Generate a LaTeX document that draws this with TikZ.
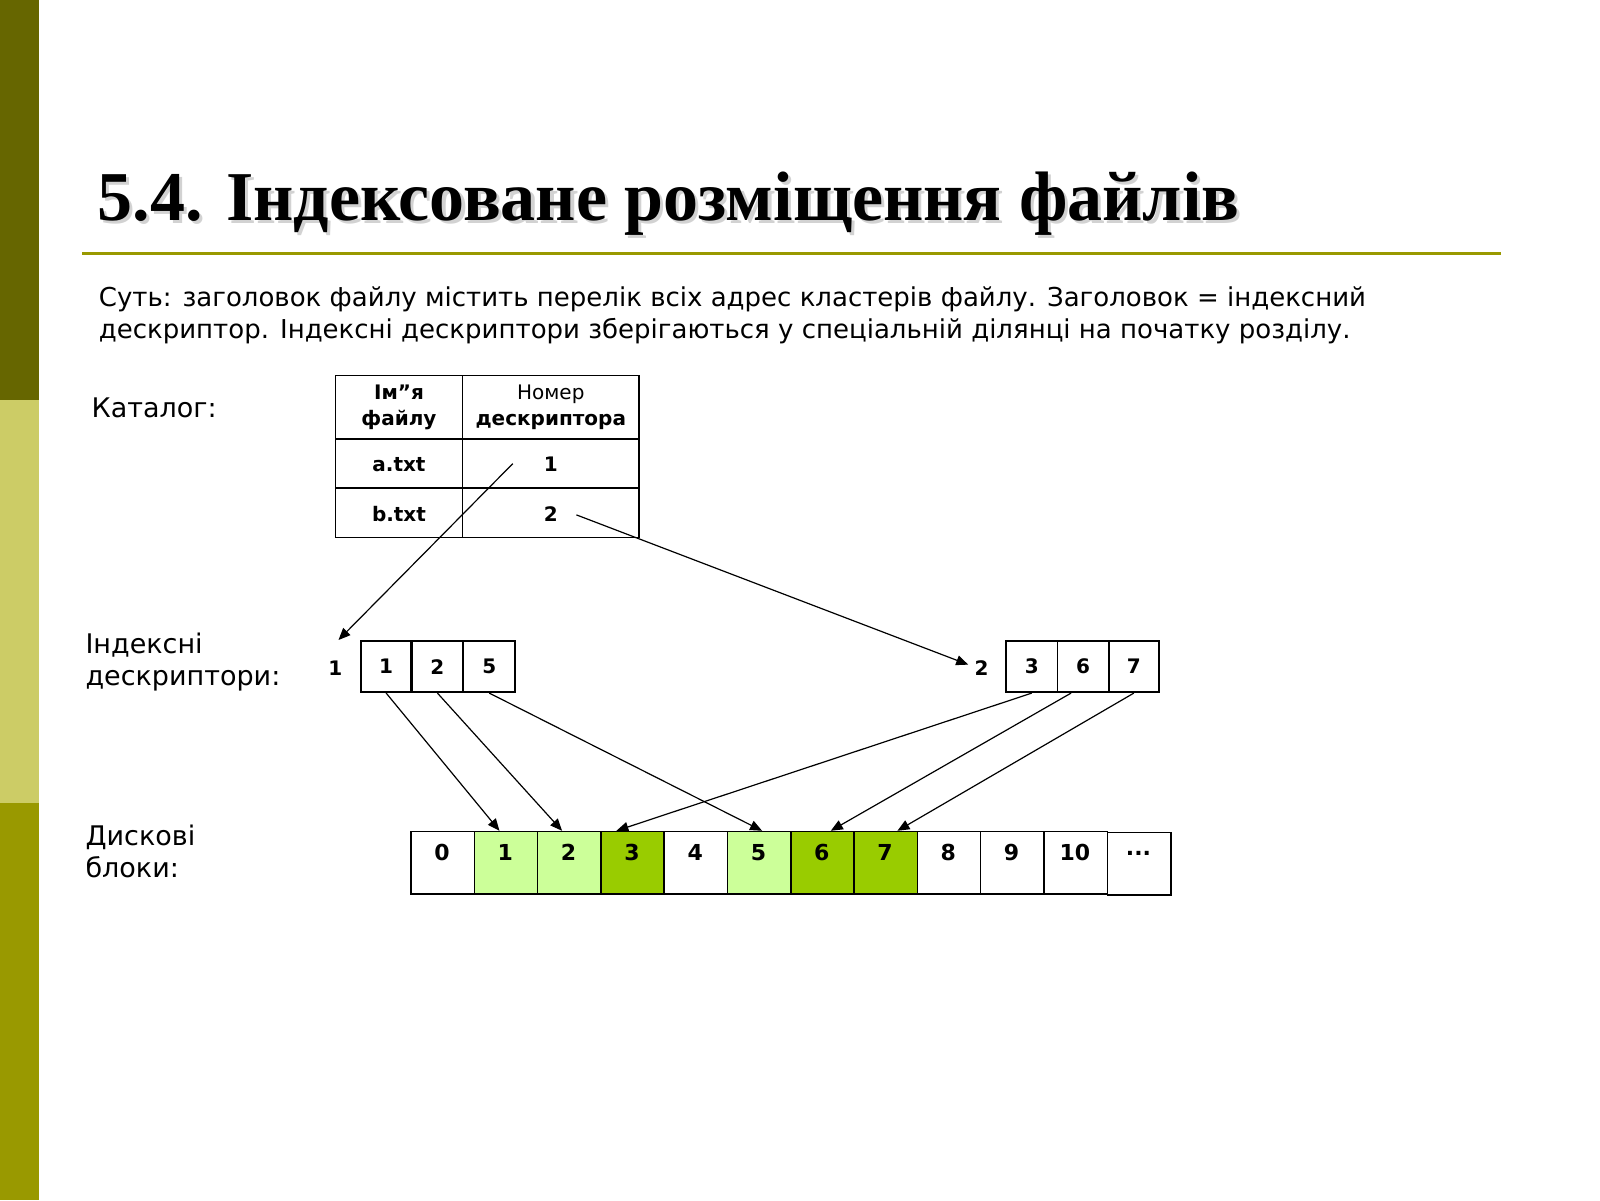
\documentclass[tikz,border=0pt]{standalone}
\usepackage{fontspec}
\setmainfont{DejaVu Sans}
\newfontfamily\titlefont{Liberation Serif}
\usetikzlibrary{arrows.meta}
\definecolor{barA}{HTML}{666600}
\definecolor{barB}{HTML}{CCCC66}
\definecolor{barC}{HTML}{999900}
\definecolor{lightg}{HTML}{CCFF99}
\definecolor{darkg}{HTML}{99CC00}
\tikzset{
 cell/.style={draw,thick,minimum width=#1,minimum height=25.6pt,inner sep=0pt,font=\fontsize{10}{11}\selectfont\bfseries},
 blk/.style={draw,thick,minimum width=31.8pt,minimum height=31.3pt,inner sep=0pt,anchor=north west},
 blknum/.style={font=\fontsize{11}{12}\selectfont\bfseries,inner sep=0pt},
 lbl/.style={anchor=west,align=left,font=\fontsize{13.5}{16}\selectfont,inner sep=0pt},
 arr/.style={-{Triangle[length=6pt,width=5pt]},semithick}
}
\begin{document}
\begin{tikzpicture}[x=0.5128pt,y=-0.5128pt]
\useasboundingbox (0,0) rectangle (1560,1170);
\fill[white] (0,0) rectangle (1560,1170);
\fill[barA] (0,0) rectangle (38,390);
\fill[barB] (0,390) rectangle (38,783);
\fill[barC] (0,783) rectangle (38,1170);
\begin{scope}[transparency group,opacity=0.35]
\path (98,218) node[anchor=base west,inner sep=0pt,font=\titlefont\fontsize{35}{38}\selectfont\bfseries,text=gray] {5.4. Індексоване розміщення файлів};
\end{scope}
\node[anchor=base west,inner sep=0pt,font=\titlefont\fontsize{35}{38}\selectfont\bfseries] (title) at (95,215) {5.4. Індексоване розміщення файлів};
\draw[barC,line width=1.5pt] (80,247) -- (1463,247);
\node[anchor=north west,align=left,inner sep=0pt,font=\fontsize{13}{16}\selectfont] (intro) at (96,279) {Суть: заголовок файлу містить перелік всіх адрес кластерів файлу. Заголовок = індексний\\дескриптор. Індексні дескриптори зберігаються у спеціальній ділянці на початку розділу.};
\node[lbl] (lcat) at (89,398) {Каталог:};
\node[lbl] (lind) at (83,645) {Індексні\\дескриптори:};
\node[lbl] (ldisk) at (83,830) {Дискові\\блоки:};
% table
\draw[thick] (327,366) rectangle (623,524);
\draw[thick] (451,366) -- (451,524);
\draw[thick] (327,428) -- (623,428);
\draw[thick] (327,476) -- (623,476);
\node[align=center,font=\fontsize{10}{13}\selectfont\bfseries] (h1) at (389,397) {Ім”я\\файлу};
\node[align=center,font=\fontsize{10}{13}\selectfont\bfseries] (h2) at (537,397) {{\mdseries Номер}\\дескриптора};
\node[font=\fontsize{10}{11}\selectfont\bfseries] (fa) at (389,453) {a.txt};
\node[font=\fontsize{10}{11}\selectfont\bfseries] (na) at (537,453) {1};
\node[font=\fontsize{10}{11}\selectfont\bfseries] (fb) at (389,501) {b.txt};
\node[font=\fontsize{10}{11}\selectfont\bfseries] (nb) at (537,501) {2};
% index descriptors
\node[font=\fontsize{10}{11}\selectfont\bfseries] (d1) at (327,651) {1};
\node[cell=25.1pt] (a1) at (376.5,650) {1};
\node[cell=25.6pt] (a2) at (426.5,650) {2};
\node[cell=25.6pt] (a3) at (477,650) {5};
\node[font=\fontsize{10}{11}\selectfont\bfseries] (d2) at (957,651) {2};
\node[cell=25.6pt] (b1) at (1006,650) {3};
\node[cell=25.6pt] (b2) at (1056,650) {6};
\node[cell=25.1pt] (b3) at (1105.5,650) {7};
% disk blocks
\foreach \i/\c in {0/white,1/lightg,2/lightg,3/darkg,4/white,5/lightg,6/darkg,7/darkg,8/white,9/white,10/white}{
  \node[blk,fill=\c] (k\i) at ({400+61.7*\i},810) {};
  \node[blknum] (n\i) at ({431+61.7*\i},831) {\i};
}
\node[blk] (kdots) at (1079,811) {};
\node[blknum] (ndots) at (1110,832) {...};
% arrows
\coordinate (sa) at (500,452);
\coordinate (sb) at (562,502);
\coordinate (t1) at (330,624);
\coordinate (t2) at (944,648);
\draw[arr] (sa) -- (t1);
\draw[arr] (sb) -- (t2);
\draw[arr] (a1.south) -- (k1.north -| 487,0);
\draw[arr] (a2.south) -- (k2.north -| 548,0);
\draw[arr] (a3.south) -- (k5.north -| 743,0);
\draw[arr] (b1.south) -- (k3.north -| 601,0);
\draw[arr] ([xshift=-6pt]b2.south) -- (k6.north -| 810,0);
\draw[arr] (b3.south) -- (k7.north -| 875,0);
\end{tikzpicture}
\end{document}
